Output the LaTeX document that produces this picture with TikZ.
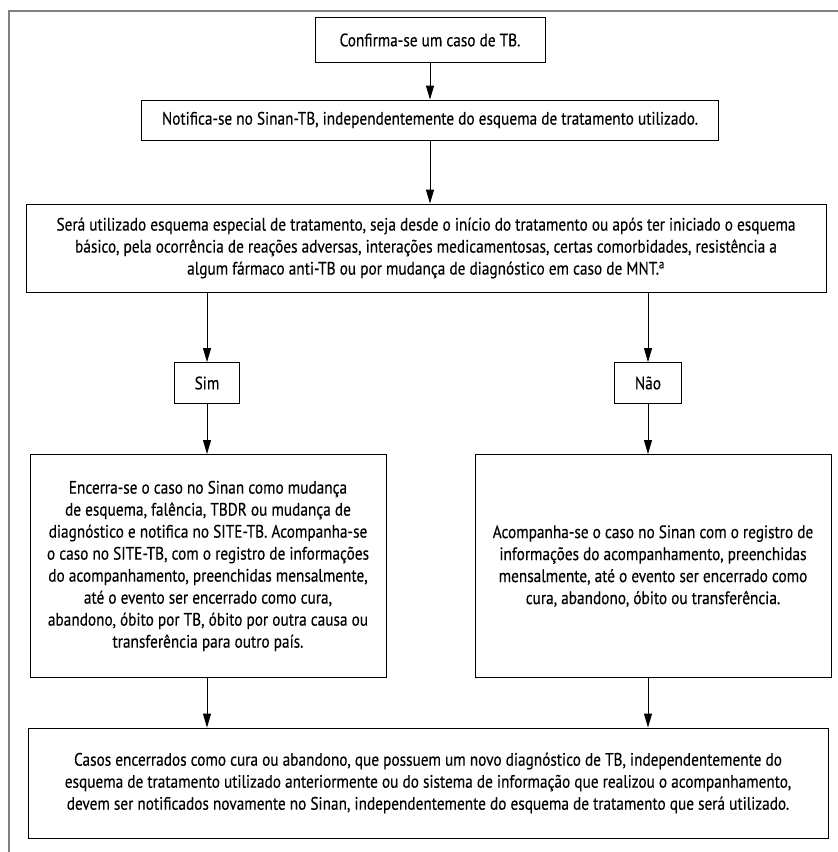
\documentclass[tikz,border=0pt]{standalone}
\usepackage{fontspec}
\setmainfont[FakeStretch=0.85, FakeBold=0.3]{PT Sans}
\usetikzlibrary{arrows.meta, positioning}
\tikzset{
	x=1pt, y=-1pt, % one unit is one pixel of the reference, y grows downwards
	>={Triangle[length=14pt, width=8pt]}, % narrow filled arrow heads
	every picture/.style={line width=0.9pt},
	box/.style={draw, align=center, inner sep=0pt,
		font=\fontsize{18}{22}\selectfont}, % sets the properties for each box
	frame/.style={draw=gray, line width=1.6pt}, % the outer border of the figure
}
\begin{document}
\begin{tikzpicture}
	\useasboundingbox (0,0) rectangle (838,852);
	\draw[frame] (9,852) |- (838,11);
			\node[box, minimum width=230, minimum height=45] at (430,40) (conf) {Confirma-se um caso de TB.};
			\node[box, minimum width=577, minimum height=40] at (430,120) (notif) {Notifica-se no Sinan-TB, independentemente do esquema de tratamento utilizado.};
			\node[box, minimum width=800, minimum height=88] at (426,248) (esq) {Será utilizado esquema especial de tratamento, seja desde o início do tratamento ou após ter iniciado o esquema\\
				básico, pela ocorrência de reações adversas, interações medicamentosas, certas comorbidades, resistência a\\
				algum fármaco anti-TB ou por mudança de diagnóstico em caso de MNT.\textsuperscript{a}};
			\node[box, minimum width=65, minimum height=41] at (207,383) (sim) {Sim};
			\node[box, minimum width=67, minimum height=41] at (648,383) (nao) {Não};
			\node[box, minimum width=356, minimum height=223] at (208,566) (encl) {Encerra-se o caso no Sinan como mudança\\
				de esquema, falência, TBDR ou mudança de\\
				diagnóstico e notifica no SITE-TB. Acompanha-se\\
				o caso no SITE-TB, com o registro de informações\\
				do acompanhamento, preenchidas mensalmente,\\
				até o evento ser encerrado como cura,\\
				abandono, óbito por TB, óbito por outra causa ou\\
				transferência para outro país.};
			\node[box, minimum width=356, minimum height=223] at (653,566) (acomp) {Acompanha-se o caso no Sinan com o registro de\\
				informações do acompanhamento, preenchidas\\
				mensalmente, até o evento ser encerrado como\\
				cura, abandono, óbito ou transferência.};
			\node[box, minimum width=800, minimum height=110] at (428,783) (fim) {Casos encerrados como cura ou abandono, que possuem um novo diagnóstico de TB, independentemente do\\
				esquema de tratamento utilizado anteriormente ou do sistema de informação que realizou o acompanhamento,\\
				devem ser notificados novamente no Sinan, independentemente do esquema de tratamento que será utilizado.};
	\draw[->] 	(conf) -- (notif);
	\draw[->] 	(notif) -- (notif |- esq.north);
	\draw[->] 	(sim |- esq.south) -- (sim);
	\draw[->] 	(nao |- esq.south) -- (nao);
	\draw[->] 	(sim) -- (sim |- encl.north);
	\draw[->] 	(nao) -- (nao |- acomp.north);
	\draw[->] 	(sim |- encl.south) -- (sim |- fim.north);
	\draw[->] 	(nao |- acomp.south) -- (nao |- fim.north);
	\end{tikzpicture}
\end{document}
